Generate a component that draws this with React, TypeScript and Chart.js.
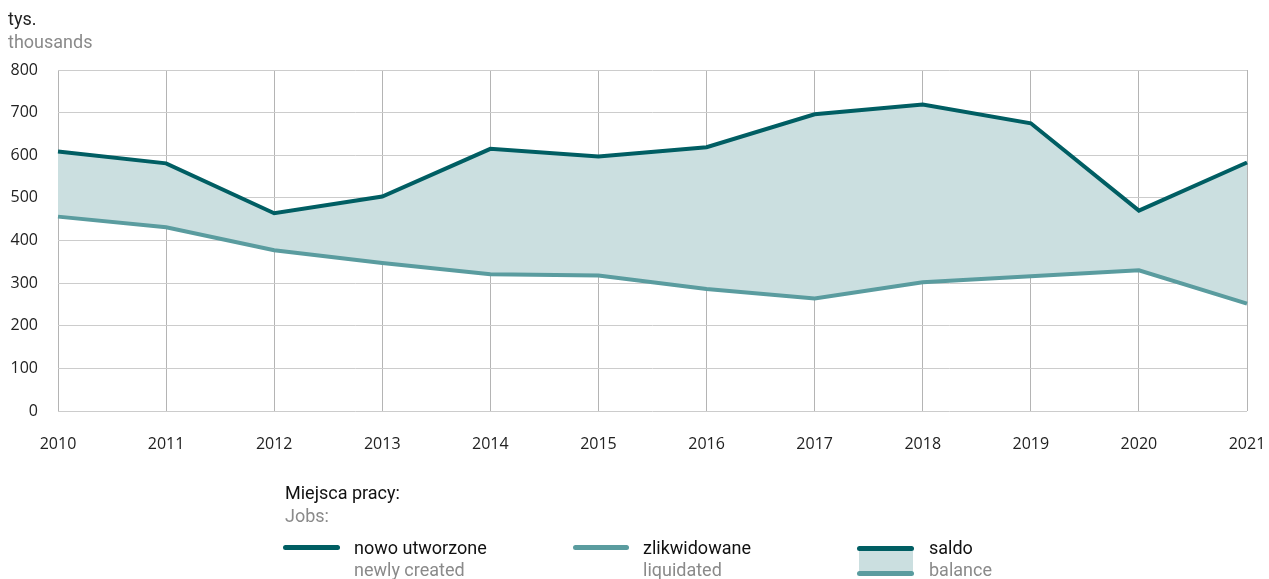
import React, { useEffect, useRef } from "react";
import { Chart, registerables } from "chart.js";

Chart.register(...registerables);

const years = ["2010", "2011", "2012", "2013", "2014", "2015", "2016", "2017", "2018", "2019", "2020", "2021"];
const created = [609, 581, 464, 503, 615, 597, 619, 696, 719, 675, 470, 583];
const liquidated = [456, 431, 377, 347, 321, 318, 286, 264, 302, 316, 330, 252];
const yTicks = [0, 100, 200, 300, 400, 500, 600, 700, 800];

const DARK = "#005e63";
const LIGHT = "#5a9c9f";
const FILL = "#cbdfe0";
const GRAY_TEXT = "#8a8a8a";
const LEG_FONT = "Roboto, 'Noto Sans', sans-serif";

export default function App() {
  const ref = useRef<HTMLCanvasElement | null>(null);

  useEffect(() => {
    document.body.style.margin = "0";
    const canvas = ref.current!;
    const chart = new Chart(canvas, {
      type: "line",
      data: {
        labels: years,
        datasets: [
          {
            label: "nowo utworzone",
            data: created,
            borderColor: DARK,
            backgroundColor: FILL,
            borderWidth: 4,
            pointRadius: 0,
            tension: 0,
            fill: "+1",
          },
          {
            label: "zlikwidowane",
            data: liquidated,
            borderColor: LIGHT,
            backgroundColor: FILL,
            borderWidth: 4,
            pointRadius: 0,
            tension: 0,
            fill: false,
          },
        ],
      },
      options: {
        responsive: false,
        animation: false,
        events: [],
        layout: { padding: { top: 70, right: 22, bottom: 96, left: 0 } },
        plugins: {
          legend: { display: false },
          tooltip: { enabled: false },
          title: { display: false },
          filler: { drawTime: "beforeDatasetsDraw" } as any,
        },
        scales: {
          x: {
            type: "category",
            offset: false,
            grid: { color: "#b4b4b4", lineWidth: 1, drawTicks: false },
            border: { display: false },
            ticks: {
              color: "#222",
              font: { family: "'Open Sans', sans-serif", size: 16 },
              padding: 24,
              maxRotation: 0,
              autoSkip: false,
            },
            afterFit: (s: any) => {
              s.height = 72;
              s.paddingLeft = 0;
              s.paddingRight = 0;
            },
          },
          y: {
            min: 0,
            max: 800,
            afterBuildTicks: (s: any) => {
              s.ticks = yTicks.map((v) => ({ value: v }));
            },
            grid: { color: "#cccccc", lineWidth: 1, drawTicks: false },
            border: { display: false },
            ticks: {
              color: "#222",
              font: { family: "'Open Sans', sans-serif", size: 16 },
              padding: 20,
            },
            afterFit: (s: any) => {
              s.width = 58;
              s.paddingTop = 0;
              s.paddingBottom = 0;
            },
          },
        },
      },
    });
    return () => chart.destroy();
  }, []);

  const t = (text: string, x: number, y: number, color: string, size = 18) => (
    <div
      style={{
        position: "absolute",
        left: x,
        top: y,
        fontFamily: LEG_FONT,
        fontSize: size,
        color,
        lineHeight: "22px",
        whiteSpace: "nowrap",
      }}
    >
      {text}
    </div>
  );

  const line = (x: number, y: number, w: number, color: string) => (
    <div
      style={{
        position: "absolute",
        left: x,
        top: y - 2.5,
        width: w,
        height: 5,
        borderRadius: 3,
        background: color,
      }}
    />
  );

  return (
    <div style={{ position: "relative", width: 1269, height: 579, overflow: "hidden" }}>
      <canvas ref={ref} width={1269} height={579} style={{ position: "absolute", left: 0, top: 0 }} />
      {t("tys.", 8, 8, "#222")}
      {t("thousands", 8, 31, GRAY_TEXT)}
      {t("Miejsca pracy:", 285, 482, "#111")}
      {t("Jobs:", 285, 505, GRAY_TEXT)}
      {line(283, 547, 57, DARK)}
      {t("nowo utworzone", 354, 537, "#111")}
      {t("newly created", 354, 559, GRAY_TEXT)}
      {line(573, 547, 56, LIGHT)}
      {t("zlikwidowane", 643, 537, "#111")}
      {t("liquidated", 643, 559, GRAY_TEXT)}
      <div style={{ position: "absolute", left: 859, top: 548, width: 54, height: 25, background: FILL }} />
      {line(857, 548, 57, DARK)}
      {line(857, 573, 57, LIGHT)}
      {t("saldo", 929, 537, "#111")}
      {t("balance", 929, 559, GRAY_TEXT)}
    </div>
  );
}
